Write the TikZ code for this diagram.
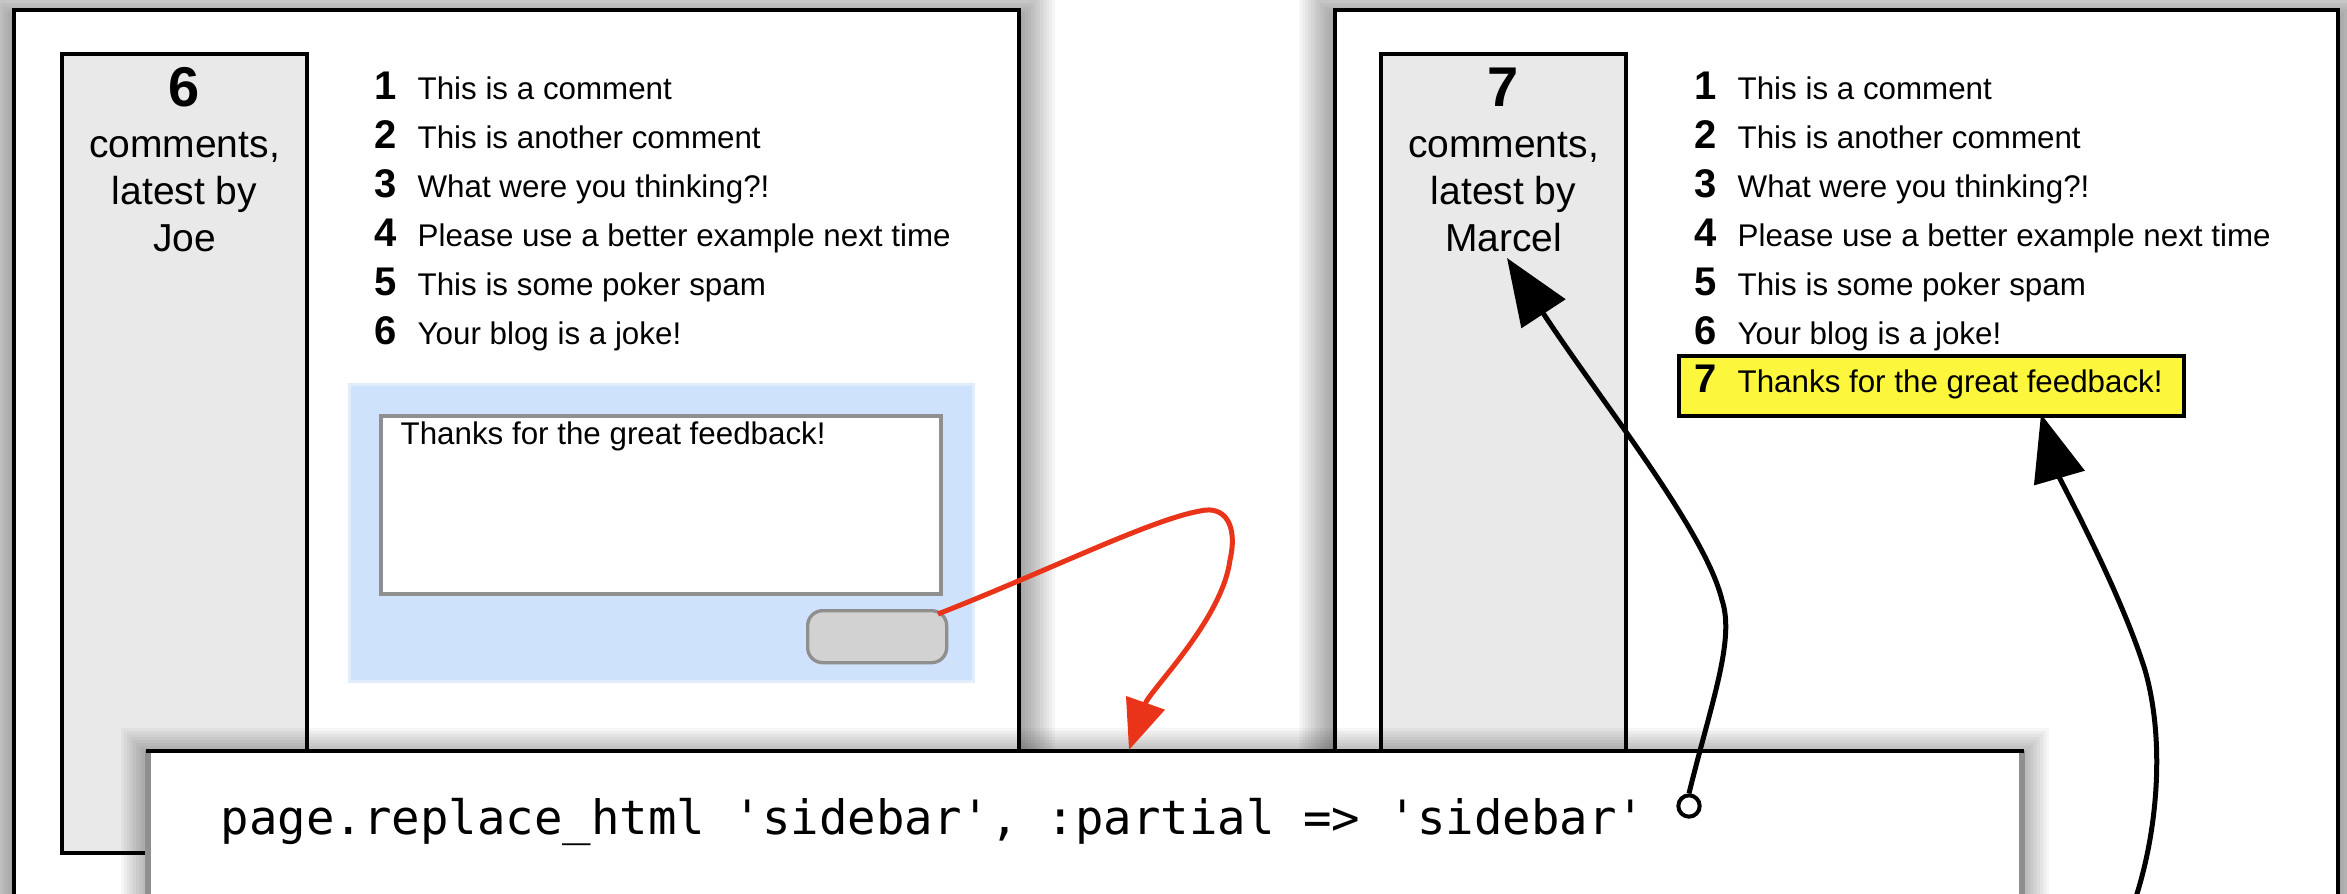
\documentclass[tikz,border=0pt]{standalone}
\usepackage{fontspec}
\setmainfont{Liberation Sans}
\newfontfamily\codefont[Ligatures=TeXOff]{DejaVu Sans Mono}
\usetikzlibrary{arrows.meta}
\definecolor{sidebargray}{RGB}{233,233,233}
\definecolor{formblue}{RGB}{207,226,251}
\definecolor{formedge}{RGB}{226,237,252}
\definecolor{fieldgray}{RGB}{143,143,143}
\definecolor{buttongray}{RGB}{210,210,210}
\definecolor{hiyellow}{RGB}{252,247,60}
\definecolor{arrowred}{RGB}{234,52,26}
\tikzset{
  frame/.style={draw=black, line width=1.1pt, fill=white},
  sidebarbox/.style={draw=black, line width=1.05pt, fill=sidebargray},
  shadowlayer/.style={fill=black, opacity=0.035},
  sbnum/.style={anchor=base, inner sep=0, font=\fontsize{16.8}{18}\selectfont\bfseries},
  sbtext/.style={anchor=base, inner sep=0, font=\fontsize{11.7}{13}\selectfont},
  cnum/.style={anchor=base, inner sep=0, font=\fontsize{12}{13}\selectfont\bfseries},
  ctext/.style={anchor=base west, inner sep=0, font=\fontsize{9.4}{11}\selectfont},
  codetext/.style={anchor=base west, inner sep=0, font=\fontsize{14.2}{16}\selectfont\codefont},
  blackarrow/.style={draw=black, line width=1.5pt, -{Triangle[length=20pt,width=15.5pt]}},
  redarrow/.style={draw=arrowred, line width=1.5pt, -{Triangle[length=15pt,width=12pt]}},
}
\begin{document}
\begin{tikzpicture}[x=0.3pt,y=-0.3pt]
\useasboundingbox (0,0) rectangle (2347,894);
\begin{scope}
\clip (0,0) rectangle (2347,894);
% ---------- left panel ----------
\foreach \k in {1,...,12}{\fill[shadowlayer] ({14-3*\k},{18-3*\k}) rectangle ({1019+3*\k},{930+3*\k});}
\draw[frame] (14,10) rectangle (1019,930);
\draw[sidebarbox] (62,54) rectangle (307,853);
\node[sbnum] (lcount) at (184.5,107) {6};
\node[sbtext] (lside1) at (184.5,158) {comments,};
\node[sbtext] (lside2) at (184.5,205) {latest by};
\node[sbtext] (lside3) at (184.5,252) {Joe};
% ---------- right panel ----------
\foreach \k in {1,...,12}{\fill[shadowlayer] ({1335-3*\k},{18-3*\k}) rectangle ({2338+3*\k},{930+3*\k});}
\draw[frame] (1335,10) rectangle (2338,930);
\draw[sidebarbox] (1381,54) rectangle (1626,853);
\node[sbnum] (rcount) at (1503.5,107) {7};
\node[sbtext] (rside1) at (1503.5,158) {comments,};
\node[sbtext] (rside2) at (1503.5,205) {latest by};
\node[sbtext] (marcel) at (1503.5,252) {Marcel};
% ---------- comment lists ----------
\foreach \txt [count=\i] in {This is a comment,This is another comment,What were you thinking?!,Please use a better example next time,This is some poker spam,Your blog is a joke!}{
  \pgfmathsetmacro\yb{100+48.8*(\i-1)}
  \node[cnum] (lnum\i) at (386,\yb) {\i};
  \node[ctext] (ltxt\i) at (417,\yb) {\txt};
  \node[cnum] (rnum\i) at (1706,\yb) {\i};
  \node[ctext] (rtxt\i) at (1737,\yb) {\txt};
}
\node[draw=black, fill=hiyellow, line width=1.2pt, inner sep=0, minimum width=151.5pt, minimum height=18pt, anchor=north west] (ybox) at (1677,354) {};
\node[cnum] (rnum7) at (1706,393) {7};
\node[ctext] (rtxt7) at (1737,393) {Thanks for the great feedback!};
% ---------- form ----------
\fill[formblue] (349,385) rectangle (973,681);
\draw[formedge, line width=0.9pt] (349,385) rectangle (973,681);
\draw[draw=fieldgray, line width=1.2pt, fill=white] (381,416) rectangle (941,594);
\node[ctext] (tatext) at (400,445) {Thanks for the great feedback!};
\node[draw=fieldgray, fill=buttongray, line width=1pt, rounded corners=4.5pt, inner sep=0, minimum width=41.7pt, minimum height=15.6pt, anchor=north west] (btn) at (806,609) {};
% ---------- code box ----------
\foreach \k in {1,...,9}{\fill[shadowlayer] ({148-3*\k},{755-3*\k}) rectangle ({2022+3*\k},{930+3*\k});}
\fill[white] (148,751) rectangle (2022,930);
\draw[fieldgray, line width=1.8pt] (148,930) -- (148,751);
\draw[fieldgray, line width=1.8pt] (2022,751) -- (2022,930);
\draw[black, line width=1.1pt] (146,751) -- (2024,751);
\node[codetext] (code) at (220,834) {page.replace\_html 'sidebar', :partial => 'sidebar'};
\node[circle, draw=black, line width=1.2pt, fill=white, inner sep=0, minimum size=6.4pt] (circ) at (1689,806) {};
% ---------- connectors ----------
\coordinate (rstart) at (938,614);
\coordinate (rtip) at (1129,750);
\coordinate (mtip) at (1507,258);
\coordinate (a2start) at (2135,900);
\coordinate (ytip) at (2041,414);
\draw[redarrow] (rstart) .. controls (1050,570) and (1150,520) .. (1200,511)
  .. controls (1225,505) and (1238,525) .. (1230,560)
  .. controls (1222,620) and (1150,690) .. (rtip);
\draw[blackarrow] (circ.north) .. controls (1712,700) and (1735,640) .. (1722,600)
  .. controls (1705,530) and (1600,400) .. (mtip);
\draw[blackarrow] (a2start) .. controls (2158,830) and (2165,740) .. (2145,670)
  .. controls (2120,590) and (2060,480) .. (ytip);
\end{scope}
\end{tikzpicture}
\end{document}
